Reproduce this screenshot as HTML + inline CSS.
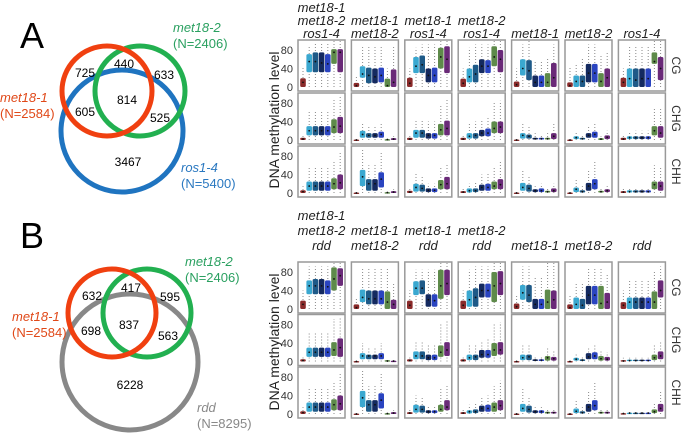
<!DOCTYPE html>
<html><head><meta charset="utf-8"><style>
html,body{margin:0;padding:0;background:#fff;}
svg{display:block;font-family:"Liberation Sans",sans-serif;}
</style></head><body>
<svg id="fig" width="682" height="435" viewBox="0 0 682 435">
<g>
<text x="20" y="48" font-size="36" fill="#000">A</text>
<circle cx="122" cy="131" r="61" fill="none" stroke="#1f74c0" stroke-width="5"/>
<circle cx="140" cy="91" r="45" fill="none" stroke="#22b050" stroke-width="5"/>
<circle cx="107" cy="91" r="45" fill="none" stroke="#f04010" stroke-width="5"/>
<g font-size="12" fill="#000" text-anchor="middle">
<text x="85" y="77">725</text><text x="124" y="68">440</text><text x="164" y="79">633</text>
<text x="127" y="104">814</text><text x="85" y="116">605</text><text x="160" y="122">525</text>
<text x="128" y="166">3467</text></g>
<g font-size="13"><text x="173" y="32" fill="#2aa060" font-style="italic">met18-2</text><text x="173" y="48" fill="#2aa060">(N=2406)</text>
<text x="0" y="102" fill="#e04818" font-style="italic">met18-1</text><text x="0" y="118" fill="#e04818">(N=2584)</text>
<text x="181" y="172" fill="#2a78c0" font-style="italic">ros1-4</text><text x="181" y="188" fill="#2a78c0">(N=5400)</text></g>
</g>
<g>
<text x="20" y="248" font-size="36" fill="#000">B</text>
<circle cx="130" cy="362" r="68" fill="none" stroke="#888" stroke-width="5"/>
<circle cx="147" cy="313" r="44" fill="none" stroke="#22b050" stroke-width="5"/>
<circle cx="112" cy="313" r="44" fill="none" stroke="#f04010" stroke-width="5"/>
<g font-size="12" fill="#000" text-anchor="middle">
<text x="92" y="300">632</text><text x="131" y="292">417</text><text x="170" y="301">595</text>
<text x="129" y="329">837</text><text x="91" y="335">698</text><text x="168" y="340">563</text>
<text x="130" y="389">6228</text></g>
<g font-size="13"><text x="185" y="266" fill="#2aa060" font-style="italic">met18-2</text><text x="185" y="282" fill="#2aa060">(N=2406)</text>
<text x="12" y="321" fill="#e04818" font-style="italic">met18-1</text><text x="12" y="337" fill="#e04818">(N=2584)</text>
<text x="197" y="412" fill="#888" font-style="italic">rdd</text><text x="197" y="428" fill="#888">(N=8295)</text></g>
</g>
<g id="grids"></g>
</svg>
<script>
// each panel: 7 boxes [q1, median, q3, max]
const dataA_CG=[
[[0,10,19,43],[32,55,71,90],[32,55,75,95],[32,52,75,95],[32,50,71,95],[50,75,82,100],[32,75,82,100]],
[[0,3,9,22],[20,28,45,88],[8,25,42,88],[8,22,40,88],[10,25,42,88],[0,3,18,40],[0,10,38,90]],
[[0,8,20,40],[30,45,65,85],[30,48,68,92],[10,25,40,92],[10,25,42,92],[40,65,85,100],[30,60,88,100]],
[[0,8,18,40],[10,22,40,85],[10,28,48,92],[30,45,60,92],[30,45,58,92],[45,65,88,100],[32,60,80,100]],
[[0,5,12,40],[25,40,60,92],[15,35,58,100],[0,10,25,55],[0,10,25,55],[0,10,30,62],[0,20,52,92]],
[[0,3,10,45],[0,12,25,50],[0,12,25,65],[10,30,50,92],[10,30,50,92],[0,12,30,70],[0,20,40,75]],
[[0,10,20,40],[0,18,40,90],[0,15,40,90],[0,18,40,90],[0,18,40,90],[50,55,75,100],[15,40,65,100]]];
const dataA_CHG=[
[[0,2,5,12],[10,20,30,62],[10,20,30,62],[10,20,30,62],[10,20,30,62],[15,28,45,90],[15,30,50,95]],
[[0,0,1,3],[5,12,20,38],[5,10,15,30],[5,10,15,32],[5,12,18,38],[0,1,2,4],[0,2,4,8]],
[[0,2,5,12],[5,15,22,45],[5,15,22,45],[3,10,15,40],[3,10,15,40],[10,22,35,75],[10,25,42,88]],
[[0,2,5,12],[3,8,15,35],[3,10,15,40],[8,15,22,45],[8,15,25,50],[15,25,40,80],[15,28,40,85]],
[[0,0,1,3],[3,10,15,35],[3,8,12,30],[1,3,5,15],[1,3,5,12],[1,3,5,15],[2,8,15,35]],
[[0,0,1,3],[2,5,8,18],[1,3,5,12],[5,10,15,30],[5,12,18,35],[0,2,4,8],[2,6,10,20]],
[[0,2,5,12],[2,5,8,18],[2,5,8,20],[2,5,8,20],[2,5,8,20],[10,20,30,70],[5,15,30,70]]];
const dataA_CHH=[
[[0,3,6,15],[5,15,25,55],[5,15,25,55],[5,15,25,55],[5,15,25,55],[8,20,32,70],[8,22,40,90]],
[[0,0,1,3],[15,35,50,95],[5,20,30,60],[5,20,30,65],[12,30,45,90],[0,1,2,4],[0,2,4,8]],
[[0,2,5,10],[3,12,20,42],[3,10,18,35],[2,6,10,20],[2,6,10,20],[8,18,28,55],[8,20,35,65]],
[[0,2,4,10],[1,5,10,20],[2,5,10,25],[5,12,18,40],[5,12,20,42],[8,15,25,55],[8,18,30,70]],
[[0,0,1,3],[5,12,22,50],[3,10,18,38],[2,5,8,15],[2,5,10,20],[1,3,5,12],[2,5,10,20]],
[[0,0,1,3],[2,8,12,30],[1,3,6,15],[5,15,22,50],[8,20,30,70],[1,3,5,12],[2,5,8,15]],
[[0,2,4,10],[1,3,6,12],[1,3,6,12],[1,3,6,12],[1,3,6,12],[8,18,25,60],[5,15,25,55]]];
const dataB_CG=[
[[0,10,18,40],[32,50,62,92],[32,50,65,92],[32,50,65,92],[32,48,62,92],[40,65,90,100],[50,72,88,100]],
[[0,3,10,25],[15,25,42,90],[10,22,40,90],[10,22,40,90],[10,22,40,90],[0,15,38,90],[0,10,20,55]],
[[0,8,18,40],[30,45,60,85],[32,45,62,85],[5,20,32,85],[5,18,32,85],[22,50,85,100],[30,55,85,100]],
[[0,8,18,40],[5,20,40,85],[5,25,45,92],[25,40,55,92],[25,40,55,92],[15,50,80,100],[30,55,82,100]],
[[0,5,12,30],[20,35,52,92],[15,30,52,92],[0,10,22,70],[0,10,22,70],[0,15,42,100],[0,20,40,100]],
[[0,3,10,30],[0,10,25,55],[0,8,22,55],[10,30,50,90],[10,30,50,90],[0,12,50,90],[0,15,35,75]],
[[0,8,15,40],[0,15,25,65],[0,15,25,65],[0,15,25,65],[0,15,25,65],[0,15,38,80],[25,40,62,92]]];
const dataB_CHG=[
[[0,2,5,12],[10,20,30,62],[10,20,30,62],[10,20,30,62],[10,20,30,62],[12,25,42,92],[10,30,50,95]],
[[0,0,1,3],[5,12,18,40],[5,12,15,30],[5,12,15,32],[5,12,18,40],[0,1,3,5],[0,1,2,4]],
[[0,2,5,12],[5,12,22,45],[5,12,22,45],[3,8,15,35],[3,8,15,35],[10,20,35,80],[12,25,42,88]],
[[0,2,5,12],[3,8,15,35],[3,10,15,35],[8,15,25,45],[8,15,25,50],[12,25,40,80],[15,25,42,85]],
[[0,0,1,3],[3,8,15,35],[3,10,15,35],[1,3,5,12],[1,3,5,12],[2,8,12,28],[2,6,10,25]],
[[0,0,1,3],[2,5,8,18],[1,3,5,12],[5,10,18,32],[5,12,20,38],[2,6,12,25],[2,5,10,20]],
[[0,1,3,8],[1,2,4,8],[1,2,4,8],[1,2,4,8],[1,2,4,8],[3,8,15,35],[5,12,22,45]]];
const dataB_CHH=[
[[0,3,6,15],[5,15,25,55],[5,15,25,55],[5,15,25,55],[5,15,25,55],[8,20,32,70],[8,22,40,90]],
[[0,0,1,3],[15,35,50,95],[5,20,30,60],[5,20,30,65],[12,30,45,90],[0,1,2,4],[0,2,4,8]],
[[0,2,4,10],[3,10,20,40],[3,10,18,35],[2,5,8,18],[2,5,8,18],[5,10,20,55],[8,15,30,62]],
[[0,2,4,10],[1,5,8,20],[2,5,10,25],[5,12,18,35],[5,12,20,40],[5,15,25,60],[8,18,30,72]],
[[0,0,1,3],[5,12,22,55],[3,10,18,35],[2,5,8,15],[2,5,8,15],[1,3,5,10],[1,3,5,10]],
[[0,0,1,3],[2,6,12,28],[1,3,6,15],[5,15,22,50],[8,18,30,70],[1,3,5,10],[1,3,5,10]],
[[0,1,2,6],[1,2,3,6],[1,2,3,6],[1,2,3,6],[1,2,3,6],[2,5,10,25],[5,12,22,50]]];
const headersA=[["met18-1","met18-2","ros1-4"],["met18-1","met18-2"],["met18-1","ros1-4"],["met18-2","ros1-4"],["met18-1"],["met18-2"],["ros1-4"]];
const headersB=[["met18-1","met18-2","rdd"],["met18-1","met18-2"],["met18-1","rdd"],["met18-2","rdd"],["met18-1"],["met18-2"],["rdd"]];
const rowLabels=["CG","CHG","CHH"];
const yTicks=[0,40,80];
const boxColors=["#8a2a2a","#3aa8d0","#1e5a88","#142a60","#2a44c0","#5e8a4a","#6a2a78"];

const NS="http://www.w3.org/2000/svg";
const root=document.getElementById("grids");
function mk(tag,attrs,parent){const e=document.createElementNS(NS,tag);for(const k in attrs)e.setAttribute(k,attrs[k]);(parent||root).appendChild(e);return e;}
const PW=47,PH=51,X0=298,XS=53.4;
function yScale(top,v){return top+47-v*0.4625;}
function xScale(left,i){return left+5+i*6.2;}

function drawBlock(rows,headers,tops,headerBase,lineGap,ytitleY,blockName){
  const g=mk("g",{});
  
  
  const yt=mk("text",{x:0,y:0,"font-size":14,fill:"#222","text-anchor":"middle",transform:`translate(279,${ytitleY}) rotate(-90)`},g);
  yt.textContent="DNA methylation level";
  
  
  headers.forEach((h,c)=>{
    const cx=X0+c*XS+PW/2;
    h.forEach((line,k)=>{
      const t=mk("text",{x:cx,y:headerBase-(h.length-1-k)*lineGap,"font-size":13,"font-style":"italic",fill:"#222","text-anchor":"middle"},g);
      t.textContent=line;
      
      
    });
  });
  rows.forEach((panels,r)=>{
    const top=tops[r];
    const rl=mk("text",{x:0,y:0,"font-size":12,fill:"#333","text-anchor":"middle",transform:`translate(672,${top+PH/2}) rotate(90)`},g);
    rl.textContent=rowLabels[r];
    
    
    yTicks.forEach(v=>{
      const t=mk("text",{x:293,y:yScale(top,v)+4,"font-size":11,fill:"#333","text-anchor":"end"},g);
      t.textContent=v;
      
      
    });
    panels.forEach((boxes,c)=>{
      const left=X0+c*XS;
      const pg=mk("g",{},g);
      
      
      const fr=mk("rect",{x:left,y:top,width:PW,height:PH,fill:"#fff",stroke:"#999","stroke-width":1.5},pg);
      
      
      boxes.forEach((b,i)=>{
        const x=xScale(left,i);
        const w=mk("line",{x1:x,x2:x,y1:yScale(top,0),y2:yScale(top,b[3]),stroke:"#888","stroke-width":1,"stroke-dasharray":"1 2"},pg);
        
        
        const y1=yScale(top,b[2]),y0=yScale(top,b[0]);
        const bx=mk("rect",{x:x-2.8,y:y1,width:5.6,height:Math.max(1.5,y0-y1),rx:1.5,fill:boxColors[i]},pg);
        
        
        const m=mk("circle",{cx:x,cy:yScale(top,b[1]),r:0.9,fill:"#111"},pg);
        
        
      });
    });
  });
}
drawBlock([dataA_CG,dataA_CHG,dataA_CHH],headersA,[40,93,146],38,13,120,"boxplots-a");
drawBlock([dataB_CG,dataB_CHG,dataB_CHH],headersB,[262,314.5,367],250,15,342,"boxplots-b");
</script>
</body></html>
